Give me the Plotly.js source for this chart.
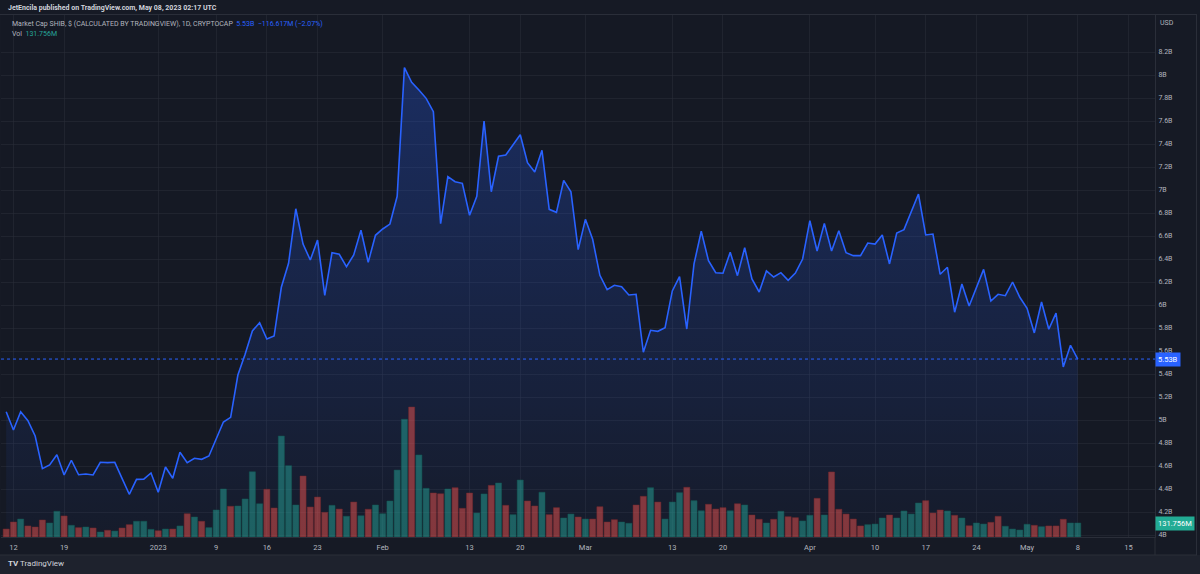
<!DOCTYPE html>
<html><head><meta charset="utf-8">
<script src="https://cdn.plot.ly/plotly-3.0.1.min.js"></script>
<style>html,body{margin:0;padding:0;background:#161a25;}#chart{width:1200px;height:574px;}</style>
</head><body><div id="chart"></div>
<script>
// ---- data ----
const startDate = [2022, 11, 11]; // first daily point: 11 Dec 2022
const marketCapB = [
5.072,4.913,5.072,4.994,4.861,4.577,4.609,4.698,4.522,4.650,
4.524,4.530,4.522,4.632,4.629,4.632,4.493,4.354,4.484,4.486,
4.539,4.371,4.591,4.493,4.719,4.629,4.667,4.658,4.687,4.832,
4.983,5.023,5.391,5.571,5.774,5.846,5.704,5.730,6.154,6.363,
6.837,6.530,6.391,6.565,6.084,6.455,6.441,6.333,6.435,6.650,
6.371,6.606,6.661,6.704,6.945,8.064,7.937,7.870,7.797,7.681,
6.707,7.116,7.072,7.058,6.780,6.945,7.600,6.985,7.293,7.304,
7.397,7.481,7.237,7.157,7.345,6.832,6.806,7.084,6.985,6.481,
6.745,6.571,6.258,6.133,6.171,6.159,6.087,6.093,5.589,5.780,
5.771,5.803,6.122,6.246,5.791,6.357,6.641,6.385,6.281,6.276,
6.458,6.255,6.498,6.226,6.113,6.296,6.243,6.281,6.215,6.278,
6.400,6.733,6.470,6.710,6.470,6.646,6.455,6.429,6.429,6.539,
6.530,6.609,6.357,6.626,6.655,6.806,6.965,6.609,6.617,6.267,
6.328,5.937,6.183,5.991,6.151,6.310,6.035,6.093,6.081,6.200,
6.067,5.971,5.757,6.026,5.789,5.930,5.461,5.650,5.530];
const volumeM = [
75,141,169,104,94,160,132,242,198,110,
88,94,85,47,63,56,85,116,148,148,
72,59,75,75,104,219,188,148,88,254,
452,289,292,358,614,313,449,273,950,671,
301,574,282,376,232,298,263,195,329,200,
261,301,219,339,630,1108,1223,772,458,414,
407,452,464,270,414,226,405,486,508,298,
210,536,339,292,421,210,276,179,216,188,
169,169,285,141,163,141,129,301,383,464,
329,169,329,417,468,342,247,308,263,276,
247,313,301,207,167,132,167,242,191,182,
151,204,364,207,612,261,216,169,104,116,
122,179,207,179,245,216,320,342,226,254,
245,204,179,106,132,122,138,195,101,75,
66,120,110,97,104,104,167,132,131.756];
const volumeUp = [
0,0,1,0,0,0,1,1,0,1, 0,1,0,1,0,1,0,0,1,1,
1,0,1,0,1,0,1,0,1,1, 1,0,1,1,1,1,0,0,1,1,
1,0,0,0,0,1,0,1,0,1, 0,1,1,1,1,1,0,1,1,0,
0,1,0,0,0,1,1,0,1,0, 1,1,0,0,1,0,0,1,1,0,
1,0,0,0,0,1,1,0,0,1, 0,1,1,1,0,1,1,0,0,0,
1,0,1,0,0,1,0,1,0,0, 1,1,0,1,0,0,0,0,0,1,
1,1,0,1,1,1,1,0,0,0, 1,0,1,0,1,1,0,0,1,1,
1,1,0,1,0,0,0,1,1];
const tickDates = ['2022-12-12','2022-12-19','2023-01-01','2023-01-09','2023-01-16','2023-01-23','2023-02-01','2023-02-13','2023-02-20','2023-03-01','2023-03-13','2023-03-20','2023-04-01','2023-04-10','2023-04-17','2023-04-24','2023-05-01','2023-05-08','2023-05-15'];
const tickLabels = ['12','19','2023','9','16','23','Feb','13','20','Mar','13','20','Apr','10','17','24','May','8','15'];
const priceTicks = [4,4.2,4.4,4.6,4.8,5,5.2,5.4,5.6,5.8,6,6.2,6.4,6.6,6.8,7,7.2,7.4,7.6,7.8,8,8.2];
const priceTickLabels = ['4B','4.2B','4.4B','4.6B','4.8B','5B','5.2B','5.4B','5.6B','5.8B','6B','6.2B','6.4B','6.6B','6.8B','7B','7.2B','7.4B','7.6B','7.8B','8B','8.2B'];
const headerText = 'JetEncila published on TradingView.com, May 08, 2023 02:17 UTC';
const seriesTitle = 'Market Cap SHIB, $ (CALCULATED BY TRADINGVIEW), 1D, CRYPTOCAP';
const lastChangeText = '−116.617M (−2.07%)';

// ---- derived ----
const dates = marketCapB.map((_, i) => new Date(Date.UTC(startDate[0], startDate[1], startDate[2] + i)).toISOString().slice(0, 10));
const lastPrice = marketCapB[marketCapB.length - 1];
const lastVol = volumeM[volumeM.length - 1];
const fmtVol = v => v.toFixed(3) + 'M';
const UP = '#26a69a', BLUE = '#2962ff', TXT = '#b2b5be';

const W = 1200, H = 574, ML = 1, MR = 45, MT = 15, MB = 37;
const PW = W - ML - MR, PH = H - MT - MB;
const px = x => (x - ML) / PW;
const py = y => (H - MB - y) / PH;

const volTrace = {
  type: 'bar', x: dates, y: volumeM, yaxis: 'y2',
  width: 0.84 * 86400000,
  marker: { color: volumeUp.map(u => u ? 'rgba(38,166,154,0.5)' : 'rgba(239,83,80,0.5)'),
            line: { width: 0.6, color: volumeUp.map(u => u ? 'rgba(20,90,85,0.8)' : 'rgba(120,40,45,0.8)') } },
  hoverinfo: 'skip'
};
const priceTrace = {
  type: 'scatter', mode: 'lines', x: dates, y: marketCapB,
  line: { color: BLUE, width: 1.6 },
  fill: 'tozeroy',
  fillgradient: { type: 'vertical', start: 3.98, stop: 8.1,
    colorscale: [[0, 'rgba(41,98,255,0.03)'], [1, 'rgba(41,98,255,0.28)']] },
  hoverinfo: 'skip'
};

const gridColor = 'rgba(42,46,57,0.55)';
const FS = 7;
const layout = {
  width: W, height: H,
  margin: { l: ML, r: MR, t: MT, b: MB, pad: 0 },
  paper_bgcolor: '#161a25', plot_bgcolor: '#151924',
  showlegend: false,
  font: { family: 'Roboto, "Liberation Sans", sans-serif', color: TXT, size: FS },
  xaxis: {
    type: 'date', range: ['2022-12-10 06:46', '2023-05-18 16:05'],
    tickmode: 'array', tickvals: tickDates, ticktext: tickLabels,
    showgrid: true, gridcolor: gridColor, gridwidth: 1,
    zeroline: false, showline: true, linecolor: '#2a2e39', ticks: '',
    tickfont: { size: 7.5, color: TXT }, ticklabelstandoff: 3, fixedrange: true
  },
  yaxis: {
    side: 'right', range: [3.9826, 8.5217],
    tickmode: 'array', tickvals: priceTicks, ticktext: priceTickLabels,
    showgrid: true, gridcolor: gridColor, zeroline: false,
    showline: true, linecolor: '#2a2e39', ticks: '',
    tickfont: { size: 7, color: TXT }, ticklabelstandoff: 1, fixedrange: true
  },
  yaxis2: { overlaying: 'y', range: [0, 4912], visible: false, fixedrange: true },
  shapes: [
    { type: 'rect', xref: 'paper', yref: 'paper', x0: px(0), x1: px(1200), y0: py(574), y1: py(555), fillcolor: '#1e222d', line: { width: 0 }, layer: 'below' },
    { type: 'line', xref: 'paper', yref: 'paper', x0: px(0), x1: px(1197), y0: py(555), y1: py(555), line: { color: '#2a2e39', width: 1 } },
    { type: 'line', xref: 'paper', yref: 'paper', x0: px(0), x1: px(1197), y0: py(14.5), y1: py(14.5), line: { color: '#2a2e39', width: 1 } },
    { type: 'line', xref: 'paper', yref: 'paper', x0: px(1196.5), x1: px(1196.5), y0: py(14.5), y1: py(555), line: { color: '#2a2e39', width: 1 } },
    { type: 'line', xref: 'paper', yref: 'paper', x0: px(1155), x1: px(1155), y0: py(537), y1: py(555), line: { color: '#2a2e39', width: 1 } },
    { type: 'line', xref: 'paper', yref: 'y', x0: 0, x1: 1, y0: lastPrice, y1: lastPrice, line: { color: BLUE, width: 1, dash: 'dot' } }
  ],
  annotations: [
    { xref: 'paper', yref: 'paper', x: px(6), y: py(8), xanchor: 'left', yanchor: 'middle', showarrow: false,
      text: '<b>' + headerText + '</b>', font: { size: 7, color: '#d1d4dc' } },
    { xref: 'paper', yref: 'paper', x: px(10), y: py(24), xanchor: 'left', yanchor: 'middle', showarrow: false,
      text: seriesTitle + '  <span style="color:' + BLUE + '">' + lastPrice.toFixed(2) + 'B  ' + lastChangeText + '</span>',
      font: { size: 7, color: TXT } },
    { xref: 'paper', yref: 'paper', x: px(10), y: py(34), xanchor: 'left', yanchor: 'middle', showarrow: false,
      text: 'Vol  <span style="color:' + UP + '">' + fmtVol(lastVol) + '</span>', font: { size: 7, color: TXT } },
    { xref: 'paper', yref: 'paper', x: px(1158), y: py(23), xanchor: 'left', yanchor: 'middle', showarrow: false,
      text: 'USD', font: { size: 7, color: TXT } },
    { xref: 'paper', yref: 'y', x: 1, y: lastPrice, xanchor: 'left', yanchor: 'middle', showarrow: false,
      text: lastPrice.toFixed(2) + 'B', bgcolor: BLUE, borderpad: 2, font: { size: 7.5, color: '#ffffff' } },
    { xref: 'paper', yref: 'y2', x: 1, y: lastVol, xanchor: 'left', yanchor: 'middle', showarrow: false,
      text: fmtVol(lastVol), bgcolor: '#22ab94', borderpad: 2, font: { size: 7.5, color: '#ffffff' } },
    { xref: 'paper', yref: 'paper', x: px(6), y: py(563), xanchor: 'left', yanchor: 'middle', showarrow: false,
      text: '<b>TV</b> TradingView', font: { size: 8, color: '#d1d4dc' } }
  ]
};

Plotly.newPlot('chart', [priceTrace, volTrace], layout, { displayModeBar: false, staticPlot: true });
</script></body></html>
